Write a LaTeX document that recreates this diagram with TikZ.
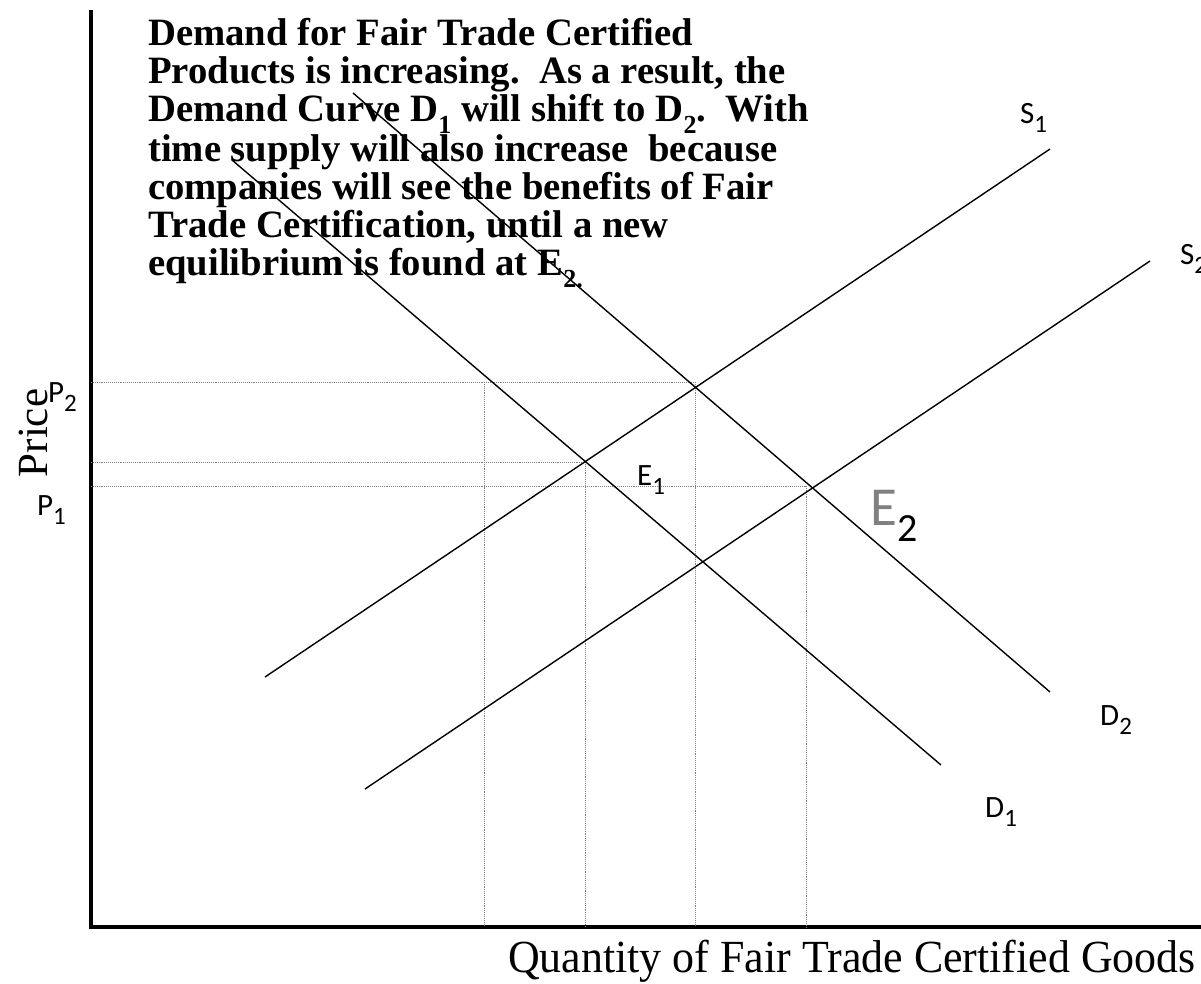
\documentclass[tikz,border=0pt]{standalone}
\usepackage{fontspec}
\setmainfont{Liberation Serif}
\newfontfamily\lblfont{Carlito}
\newcommand\bsub[1]{\raisebox{-0.3em}{\fontsize{26}{26}\selectfont #1}}
\newcommand\lsub[1]{\raisebox{-0.3em}{\fontsize{25}{25}\selectfont #1}}
\begin{document}
\begin{tikzpicture}[x=1pt,y=-1pt,
  curve/.style={line width=1.4pt, black},
  axisline/.style={line width=3.2pt, black},
  guide/.style={densely dotted, line width=0.9pt, black!50},
  lbl/.style={font=\lblfont\fontsize{31}{31}\selectfont, inner sep=0pt, anchor=base west},
  bodytext/.style={font=\bfseries\fontsize{38.7}{38.2}\selectfont, inner sep=0pt, align=left, anchor=north west}]
\useasboundingbox (0,0) rectangle (1201,983);
% axes
\coordinate (Ytop) at (91,10);
\coordinate (O) at (91,927);
\coordinate (Xend) at (1201,927);
\draw[axisline] (Ytop) -- (O) -- (Xend);
% curve end points
\coordinate (D1a) at (232,160);
\coordinate (D1b) at (941,765);
\coordinate (D2a) at (353,93);
\coordinate (D2b) at (1050,692);
\coordinate (S1a) at (265,677);
\coordinate (S1b) at (1050,149);
\coordinate (S2a) at (365,789);
\coordinate (S2b) at (1150,261);
% guide points
\coordinate (hP2a) at (91,382);
\coordinate (hP2b) at (695,382);
\coordinate (hMa) at (91,462);
\coordinate (hMb) at (585,462);
\coordinate (hP1a) at (91,486);
\coordinate (hP1b) at (806,486);
\coordinate (v1a) at (484,382);
\coordinate (v1b) at (484,927);
\coordinate (v2a) at (585,462);
\coordinate (v2b) at (585,927);
\coordinate (v3a) at (695,382);
\coordinate (v3b) at (695,927);
\coordinate (v4a) at (806,486);
\coordinate (v4b) at (806,927);
\draw[guide] (hP2a) -- (hP2b);
\draw[guide] (hMa) -- (hMb);
\draw[guide] (hP1a) -- (hP1b);
\draw[guide] (v1a) -- (v1b);
\draw[guide] (v2a) -- (v2b);
\draw[guide] (v3a) -- (v3b);
\draw[guide] (v4a) -- (v4b);
% curves
\draw[curve] (D1a) -- (D1b);
\draw[curve] (D2a) -- (D2b);
\draw[curve] (S1a) -- (S1b);
\draw[curve] (S2a) -- (S2b);
% text
\node[bodytext] (txt) at (148,18) {Demand for Fair Trade Certified\\
Products is increasing.\ \ As a result, the\\
Demand Curve D\bsub{1} will shift to D\bsub{2}.\ \ With\\
time supply will also increase\ \ because\\
companies will see the benefits of Fair\\
Trade Certification, until a new\\
equilibrium is found at E\bsub{2.}};
% labels
\node[lbl] (s1) at (1020,123) {S\lsub{1}};
\node[lbl] (s2) at (1180,264) {S\lsub{2}};
\node[lbl] (d2) at (1100,725) {D\lsub{2}};
\node[lbl] (d1) at (985,817) {D\lsub{1}};
\node[lbl] (e1) at (637,485) {E\lsub{1}};
\node[lbl] (p2) at (48,402) {P\lsub{2}};
\node[lbl] (p1) at (37,515) {P\lsub{1}};
\node[inner sep=0pt, anchor=base west] (e2) at (870,525) {\lblfont\fontsize{55}{55}\selectfont\textcolor{black!50}{E}\raisebox{-0.3em}{\fontsize{40}{40}\selectfont 2}};
\node[rotate=90, inner sep=0pt, anchor=base, font=\fontsize{43}{43}\selectfont] (price) at (47,433) {Price};
\node[inner sep=0pt, font=\fontsize{46}{46}\selectfont, xscale=0.955, anchor=base] (qty) at (852,972) {Quantity of Fair Trade Certified Goods};
\end{tikzpicture}
\end{document}
